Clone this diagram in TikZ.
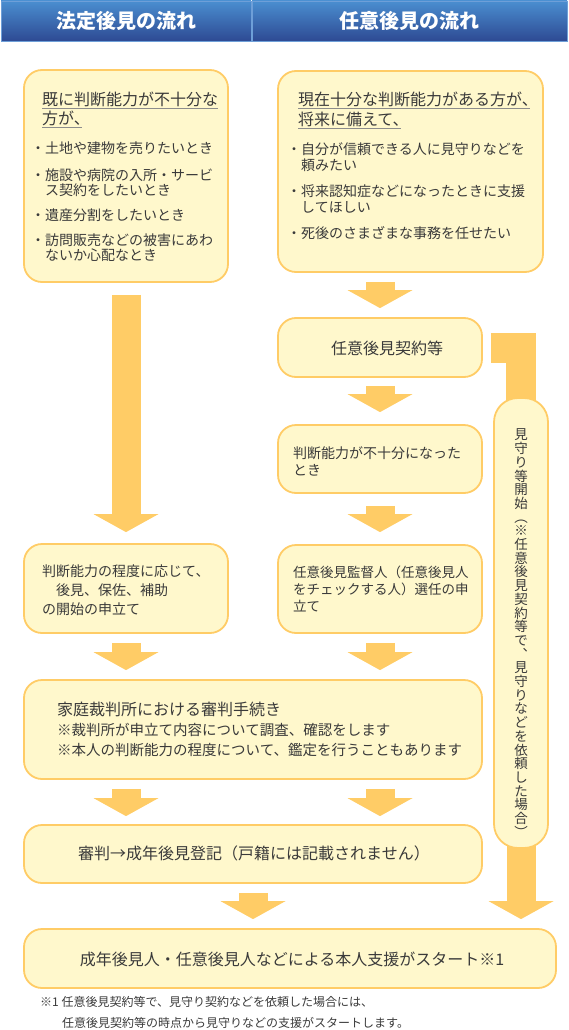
\documentclass[tikz,border=0pt]{standalone}
\usepackage{fontspec}
\setmainfont{Noto Sans CJK JP}
\usetikzlibrary{arrows.meta,calc,backgrounds}
\definecolor{boxfill}{HTML}{FFF8CC}
\definecolor{boxline}{HTML}{FFCC66}
\definecolor{arrowc}{HTML}{FFCC66}
\definecolor{inkc}{HTML}{3A3A3A}
\definecolor{ulc}{HTML}{8C8C8C}
\definecolor{hdtop}{HTML}{4A8ED0}
\definecolor{hdbot}{HTML}{2E4A93}
\definecolor{hdline}{HTML}{6E9FD8}
\newcommand\fsz[2]{\fontsize{#1}{#2}\selectfont}
\newcommand\ulg[1]{{\color{ulc}\underline{\color{inkc}#1}}}
\newcommand\bmk{\leavevmode\llap{・}}

\begin{document}
\begin{tikzpicture}[x=1pt,y=-1pt,
  box/.style={draw=boxline,fill=boxfill,line width=1.8pt,rounded corners=18pt,inner sep=0},
  hd/.style={draw=hdline,line width=0.8pt,top color=hdtop,bottom color=hdbot,text=white,
    font=\fsz{20}{24}\bfseries,inner sep=0,minimum height=40pt},
  lbl/.style={text=inkc,inner sep=0,align=left,anchor=north west},
  blk/.style={arrowc,line width=29pt,-{Triangle[width=65pt,length=18pt,line width=0pt]}},
  vt/.style={text=inkc,inner sep=0,text height=11.5pt,text depth=1.6pt,font=\fsz{13.5}{14}}]
\useasboundingbox (0,0) rectangle (568,1030);
\node[hd,minimum width=250pt] (hl) at (126,21) {法定後見の流れ};
\node[hd,minimum width=315pt] (hr) at (409.5,21) {任意後見の流れ};

\node[box,minimum width=204pt,minimum height=212pt] (b1) at (126,176) {};
\node[box,minimum width=265pt,minimum height=201pt] (b2) at (410.5,171.5) {};
\node[box,minimum width=204pt,minimum height=59pt] (k1) at (380,347.5) {};
\node[box,minimum width=204pt,minimum height=68pt] (k2) at (380,459) {};
\node[box,minimum width=204pt,minimum height=88pt] (k3) at (380,589) {};
\node[box,minimum width=204pt,minimum height=89pt] (h1) at (126,588.5) {};
\node[box,minimum width=458pt,minimum height=99pt] (s1) at (253,729.5) {};
\node[box,minimum width=458pt,minimum height=58pt] (s2) at (253,854) {};
\node[box,minimum width=532pt,minimum height=59pt] (fin) at (290,958.5) {};
\node[box,rounded corners=24pt,minimum width=54pt,minimum height=450pt] (mm) at (521,623) {};

\begin{scope}[on background layer]
\draw[blk] ($(b1.south)+(0,12)$) -- ($(h1.north)+(0,-11)$);
\draw[blk] ($(b2.south -| k1.north)+(0,9)$) -- ($(k1.north)+(0,-9)$);
\draw[blk] ($(k1.south)+(0,8)$) -- ($(k2.north)+(0,-12)$);
\draw[blk] ($(k2.south)+(0,12)$) -- ($(k3.north)+(0,-12)$);
\draw[blk] ($(h1.south)+(0,9)$) -- ($(s1.north -| h1.south)+(0,-9)$);
\draw[blk] ($(k3.south)+(0,9)$) -- ($(s1.north -| k3.south)+(0,-9)$);
\draw[blk] ($(s1.south -| h1.south)+(0,9)$) -- ($(s2.north -| h1.south)+(0,-8)$);
\draw[blk] ($(s1.south -| k3.south)+(0,9)$) -- ($(s2.north -| k3.south)+(0,-8)$);
\draw[blk] ($(s2.south)+(0,9)$) -- ($(fin.north -| s2.south)+(0,-9)$);
\draw[arrowc,line width=30pt] ($(k1.east)+(8,0)$) -| ($(mm.north)+(0,20)$);
\draw[blk] ($(mm.south)+(0,-20)$) -- ($(fin.north -| mm.south)+(0,-9)$);
\end{scope}

\node[lbl,font=\fsz{16}{19}] (b1h) at (42,92) {\ulg{既に判断能力が不十分な}\\\ulg{方が、\kern-8pt}};
\node[lbl,font=\fsz{14}{15}] (b1t) at (45,142) {\bmk 土地や建物を売りたいとき\\[12pt]\bmk 施設や病院の入所・サービ\\ス契約をしたいとき\\[10pt]\bmk 遺産分割をしたいとき\\[10pt]\bmk 訪問販売などの被害にあわ\\ないか心配なとき};
\node[lbl,font=\fsz{16}{20}] (b2h) at (298,92) {\ulg{現在十分な判断能力がある方が、\kern-8pt}\\\ulg{将来に備えて、\kern-8pt}};
\node[lbl,font=\fsz{14}{16}] (b2t) at (301,142) {\bmk 自分が信頼できる人に見守りなどを\\頼みたい\\[10pt]\bmk 将来認知症などになったときに支援\\してほしい\\[10pt]\bmk 死後のさまざまな事務を任せたい};
\node[lbl,anchor=center,font=\fsz{16}{19}] (k1t) at (387,348) {任意後見契約等};
\node[lbl,font=\fsz{14}{17}] (k2t) at (293,446) {判断能力が不十分になった\\とき};
\node[lbl,font=\fsz{13.5}{17}] (k3t) at (293,566) {任意後見監督人（任意後見人\\をチェックする人）選任の申\\立て};
\node[lbl,font=\fsz{14}{19}] (h1t) at (42,565) {判断能力の程度に応じて、\\　後見、保佐、補助\\の開始の申立て};
\node[lbl,font=\fsz{16}{20}] (s1h) at (57,702) {家庭裁判所における審判手続き};
\node[lbl,font=\fsz{14.5}{20}] (s1t) at (57,723) {※裁判所が申立て内容について調査、確認をします\\※本人の判断能力の程度について、鑑定を行うこともあります};
\node[lbl,anchor=center,font=\fsz{16}{19}] (s2t) at (254,853) {審判→成年後見登記（戸籍には記載されません）};
\node[lbl,anchor=center,font=\fsz{16}{19}] (fint) at (292,959) {成年後見人・任意後見人などによる本人支援がスタート※1};
\node[lbl,anchor=west,font=\fsz{12}{14}] (fn1) at (40,1002) {※1 任意後見契約等で、見守り契約などを依頼した場合には、};
\node[lbl,anchor=west,font=\fsz{12}{14}] (fn2) at (62,1023) {任意後見契約等の時点から見守りなどの支援がスタートします。};

\foreach \c [count=\i from 0] in {見,守,り,等,開,始,︵,※,任,意,後,見,契,約,等,で,︑,見,守,り,な,ど,を,依,頼,し,た,場,合,︶}
  \node[vt] (v\i) at (521,435+13.7*\i) {\c};
\end{tikzpicture}
\end{document}
